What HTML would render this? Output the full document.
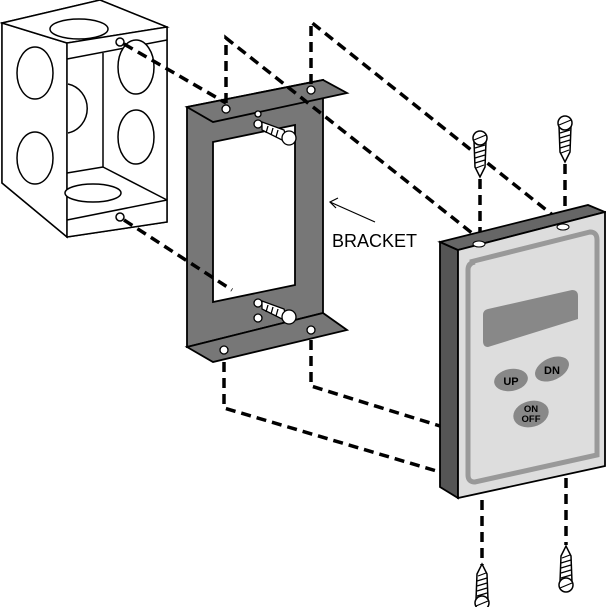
<!DOCTYPE html>
<html><head><style>body{margin:0;background:#fff}svg{display:block}</style></head><body>
<svg width="606" height="607" viewBox="0 0 606 607" xmlns="http://www.w3.org/2000/svg" font-family="Liberation Sans, sans-serif">
<defs>
<g id="screw">
<path d="M-6,0 L-5,26 L0,36 L5,26 L6,0 Z" fill="#fff" stroke="#000" stroke-width="1.5"/>
<path d="M-5,7 L5,4 M-5,12 L5,9 M-5,17 L5,14 M-5,22 L5,19 M-4,27 L4,24" stroke="#000" stroke-width="1.2"/>
<ellipse cx="0" cy="-3" rx="7" ry="7" fill="#fff" stroke="#000" stroke-width="1.5"/>
<line x1="-6" y1="-1" x2="6" y2="-6" stroke="#000" stroke-width="1.2"/>
</g>
</defs>
<g fill="#fff" stroke="#000" stroke-width="1.5">
<polygon points="2,23 100,0 167,27 167,222 67,237 2,183"/>
<polygon points="2,23 67,43 67,237 2,183"/>
<polygon points="2,23 100,0 167,27 67,43"/>
<ellipse cx="79" cy="29" rx="29" ry="10"/>
<ellipse cx="35" cy="73" rx="18" ry="26"/>
<ellipse cx="35" cy="158" rx="18" ry="26"/>
<polygon points="67,43 167,27 167,222 67,237"/>
<line x1="67" y1="59" x2="167" y2="40"/>
<line x1="67" y1="220" x2="167" y2="200"/>
<line x1="103" y1="53" x2="103" y2="167"/>
<line x1="67" y1="173" x2="103" y2="167"/>
<line x1="103" y1="167" x2="167" y2="200"/>
<path d="M68,84 A24,25 0 0 1 68,133"/>
<ellipse cx="136" cy="67" rx="18" ry="27"/>
<ellipse cx="136" cy="137" rx="18" ry="27"/>
<ellipse cx="93" cy="193" rx="28" ry="9"/>
<circle cx="120" cy="42" r="4"/>
<circle cx="120" cy="217" r="4"/>
</g>
<g stroke="#000" stroke-width="1.8">
<polygon points="187,107 323,80 323,313 187,347" fill="#777"/>
<polygon points="213,142 295,125 295,285 213,302" fill="#fff"/>
<polygon points="187,107 323,80 347,93 213,122" fill="#777"/>
<polygon points="187,347 323,313 347,330 213,362" fill="#777"/>
</g>
<g fill="#fff" stroke="#000" stroke-width="1.3">
<circle cx="226" cy="109" r="4"/><circle cx="311" cy="90" r="4"/>
<circle cx="224" cy="350" r="4"/><circle cx="311" cy="330" r="4"/>
<circle cx="258" cy="114" r="3"/><circle cx="258" cy="124" r="4"/><circle cx="258" cy="303" r="4"/><circle cx="258" cy="318" r="4"/>
<path d="M262,122 L284,130 L288,143 L262,130 Z"/>
<path d="M268,126 L266,133 M273,128 L271,135 M278,130 L276,137" />
<circle cx="289" cy="138" r="7"/>
<path d="M262,301 L284,309 L288,322 L262,309 Z"/>
<path d="M268,305 L266,312 M273,307 L271,314 M278,309 L276,316" />
<circle cx="289" cy="317" r="7"/>
</g>
<g fill="none" stroke="#000" stroke-width="3.5" stroke-dasharray="10,6">
<polyline points="124,44 226,103"/>
<polyline points="226,103 226,38 477,237"/>
<polyline points="311,84 311,22 565,225"/>
<polyline points="124,220 232,290"/>
<polyline points="224,362 224,408 440,472"/>
<polyline points="311,340 311,386 440,426"/>
<line x1="480" y1="237" x2="480" y2="176"/>
<line x1="565" y1="222" x2="565" y2="162"/>
<line x1="482" y1="500" x2="482" y2="565"/>
<line x1="566" y1="478" x2="566" y2="545"/>
</g>
<use href="#screw" x="480" y="141"/>
<use href="#screw" x="565" y="126"/>
<use href="#screw" x="482" y="568" transform="rotate(180 482 584)"/>
<use href="#screw" x="566" y="550" transform="rotate(180 566 566)"/>
<g stroke="#000" stroke-width="1.8">
<polygon points="440,242 458,250 458,498 440,487" fill="#555"/>
<polygon points="440,242 588,205 605,212 458,250" fill="#666"/>
<polygon points="458,250 605,212 605,466 458,498" fill="#ddd"/>
</g>
<path d="M470,262 L590,232 Q597,232 597,240 L597,455 L475,482 Q468,482 468,475 L468,270 Q468,263 475,262 Z" fill="none" stroke="#999" stroke-width="5"/>
<ellipse cx="479" cy="244" rx="6" ry="3" fill="#fff" stroke="#000"/>
<ellipse cx="563" cy="227" rx="6" ry="3" fill="#fff" stroke="#000"/>
<path d="M488,309 L572,290 Q578,290 578,296 L578,319 L488,347 Q483,347 483,341 L483,315 Q483,310 488,309 Z" fill="#888"/>
<ellipse cx="511" cy="380" rx="17" ry="11" fill="#888" transform="rotate(-10 511 380)"/>
<ellipse cx="552" cy="369" rx="18" ry="11" fill="#888" transform="rotate(-25 552 369)"/>
<ellipse cx="531" cy="414" rx="18" ry="13" fill="#888" transform="rotate(-15 531 414)"/>
<g font-size="11" font-weight="bold" fill="#000" text-anchor="middle">
<text x="511" y="385">UP</text>
<text x="552" y="374">DN</text>
<text x="531" y="412" font-size="9.5">ON</text>
<text x="531" y="422" font-size="9.5">OFF</text>
</g>
<line x1="375" y1="222" x2="330" y2="202" stroke="#000" stroke-width="1.2"/>
<polyline points="338,198 330,202 336,208" fill="none" stroke="#000" stroke-width="1.2"/>
<text x="332" y="247" font-size="18">BRACKET</text>
</svg>
</body></html>
